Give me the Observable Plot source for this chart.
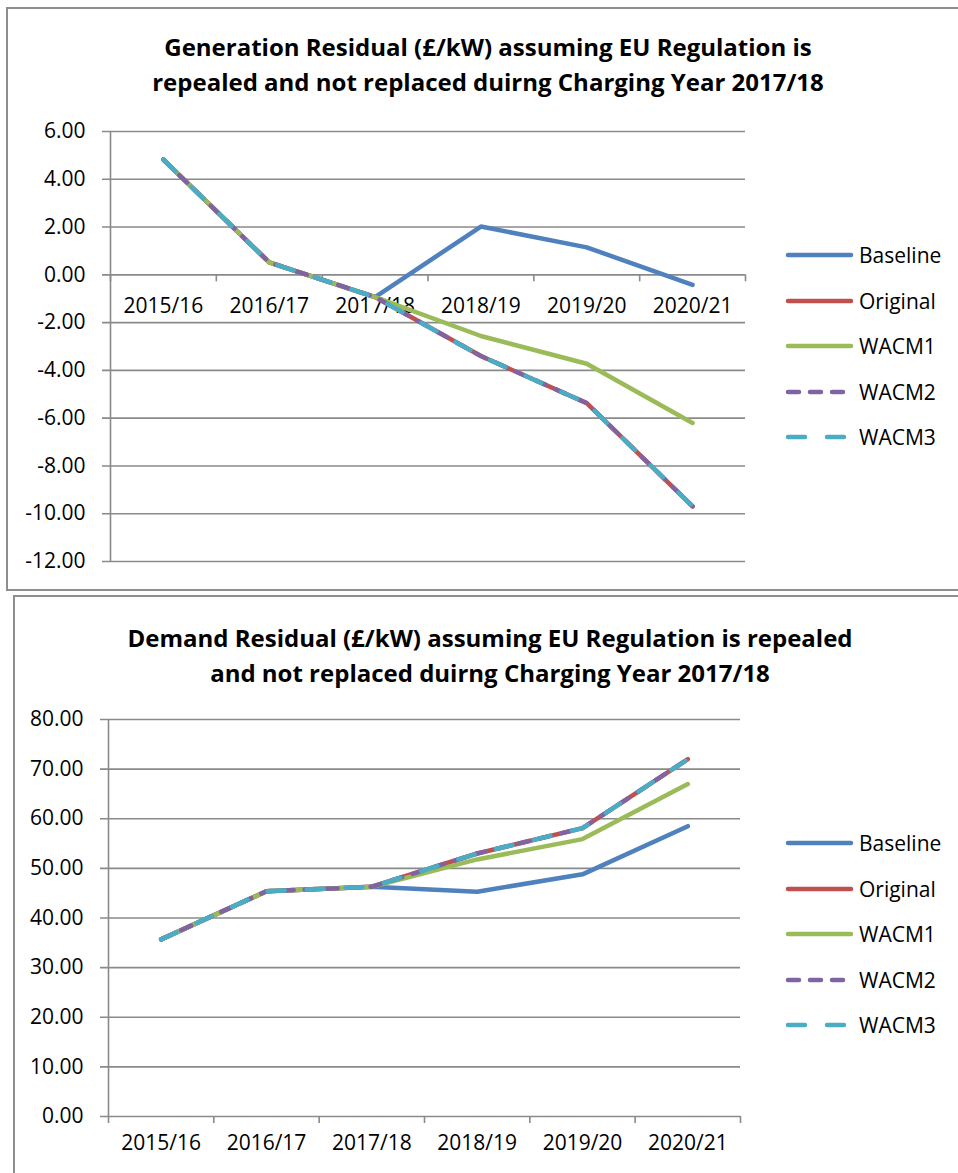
<!DOCTYPE html>
<html><head><meta charset="utf-8">
<script src="https://cdn.jsdelivr.net/npm/d3@7"></script>
<script src="https://cdn.jsdelivr.net/npm/@observablehq/plot@0.6"></script>
<style>
html,body{margin:0;padding:0;width:958px;height:1173px;overflow:hidden;background:#fff;font-family:"Open Sans",sans-serif;color:#000;}
.box{position:absolute;border:2px solid #8e8e8e;box-sizing:border-box;}
.title{position:absolute;text-align:center;font-weight:bold;font-size:24px;line-height:35px;white-space:nowrap;}
.abs{position:absolute;}
.item{position:absolute;display:flex;align-items:center;height:30px;font-size:21px;white-space:nowrap;}
.item svg{margin-right:5px;}
</style></head><body>
<div class="box" style="left:6px;top:7px;width:1000px;height:584px"></div>
<div class="box" style="left:13px;top:595px;width:1000px;height:700px"></div>
<div class="title" style="left:88px;width:800px;top:29px">Generation Residual (£/kW) assuming EU Regulation is<br>repealed and not replaced duirng Charging Year 2017/18</div>
<div class="title" style="left:90px;width:800px;top:620px">Demand Residual (£/kW) assuming EU Regulation is repealed<br>and not replaced duirng Charging Year 2017/18</div>
<div id="gen" class="abs" style="left:0;top:100px"></div>
<div id="dem" class="abs" style="left:0;top:690px"></div>
<div id="legGen" class="abs" style="left:784px;top:0"></div>
<div id="legDem" class="abs" style="left:784px;top:0"></div>
<script>
const categories = ["2015/16", "2016/17", "2017/18", "2018/19", "2019/20", "2020/21"];
const seriesNames = ["Baseline", "Original", "WACM1", "WACM2", "WACM3"];
const seriesColors = ["#4F81BD", "#C0504D", "#9BBB59", "#8064A2", "#4BACC6"];
const seriesDash = [null, null, null, "11,11", "17,22"];

const genBaseline = [4.82, 0.52, -0.93, 2.02, 1.15, -0.42];
const genOriginal = [4.82, 0.52, -0.93, -3.40, -5.37, -9.69];
const genWACM1 = [4.82, 0.52, -0.93, -2.56, -3.72, -6.20];
const genWACM2 = [4.82, 0.52, -0.93, -3.40, -5.37, -9.69];
const genWACM3 = [4.82, 0.52, -0.93, -3.40, -5.37, -9.69];
const genTicks = [-12, -10, -8, -6, -4, -2, 0, 2, 4, 6];

const demBaseline = [35.7, 45.4, 46.3, 45.3, 48.8, 58.5];
const demOriginal = [35.7, 45.4, 46.3, 53.0, 58.1, 72.0];
const demWACM1 = [35.7, 45.4, 46.3, 51.8, 55.9, 67.0];
const demWACM2 = [35.7, 45.4, 46.3, 53.0, 58.1, 72.0];
const demWACM3 = [35.7, 45.4, 46.3, 53.0, 58.1, 72.0];
const demTicks = [0, 10, 20, 30, 40, 50, 60, 70, 80];

const grid = "#8a8a8a";

function chart(series, ticks, opts) {
  const bounds = d3.range(categories.length + 1);
  const marks = [
    Plot.ruleY(ticks, {y: d => d, stroke: grid, strokeWidth: 1.6, insetLeft: -8}),
    Plot.ruleX([0], {x: d => d, stroke: grid, strokeWidth: 1.6}),
    Plot.ruleX(bounds, {x: d => d, y1: () => 0, y2: () => 0, insetBottom: -7, stroke: grid, strokeWidth: 1.6}),
    Plot.text(ticks, {x: () => 0, y: d => d, text: d => d.toFixed(2), textAnchor: "end", dx: -25, fontSize: 21}),
    Plot.text(categories, {x: (d, i) => i + 0.5, y: () => 0, text: d => d, dy: opts.labelDy, fontSize: 21})
  ];
  series.forEach((vals, k) => {
    marks.push(Plot.line(categories.map((c, i) => ({x: i + 0.5, y: vals[i]})), {
      x: "x", y: "y", stroke: seriesColors[k], strokeWidth: 4.5,
      strokeDasharray: seriesDash[k] || undefined, strokeLinecap: "round", strokeLinejoin: "round"
    }));
  });
  return Plot.plot({
    width: 958, height: opts.height,
    marginTop: opts.marginTop, marginBottom: opts.marginBottom,
    marginLeft: opts.marginLeft, marginRight: opts.marginRight,
    x: {domain: [0, categories.length], axis: null},
    y: {domain: opts.domain, axis: null},
    style: {background: "transparent", fontFamily: "'Open Sans', sans-serif", fontSize: "21px", color: "#000", overflow: "visible"},
    marks
  });
}

document.getElementById("gen").append(chart(
  [genBaseline, genOriginal, genWACM1, genWACM2, genWACM3], genTicks,
  {height: 480, marginTop: 31, marginBottom: 19, marginLeft: 110, marginRight: 213, domain: [-12, 6], labelDy: 31}
));
document.getElementById("dem").append(chart(
  [demBaseline, demOriginal, demWACM1, demWACM2, demWACM3], demTicks,
  {height: 483, marginTop: 29, marginBottom: 57, marginLeft: 108, marginRight: 218, domain: [0, 80], labelDy: 27}
));

function legend(el, firstY) {
  seriesNames.forEach((name, k) => {
    const item = document.createElement("div");
    item.className = "item";
    item.style.left = "0px";
    item.style.top = (firstY + k * 45.5 - 15) + "px";
    const dash = seriesDash[k] ? ` stroke-dasharray="${seriesDash[k]}"` : "";
    item.innerHTML = `<svg width="70" height="10"><line x1="4" y1="5" x2="67" y2="5" stroke="${seriesColors[k]}" stroke-width="4.5" stroke-linecap="round"${dash}/></svg><span>${name}</span>`;
    el.append(item);
  });
}
legend(document.getElementById("legGen"), 255);
legend(document.getElementById("legDem"), 843);
</script>
</body></html>
